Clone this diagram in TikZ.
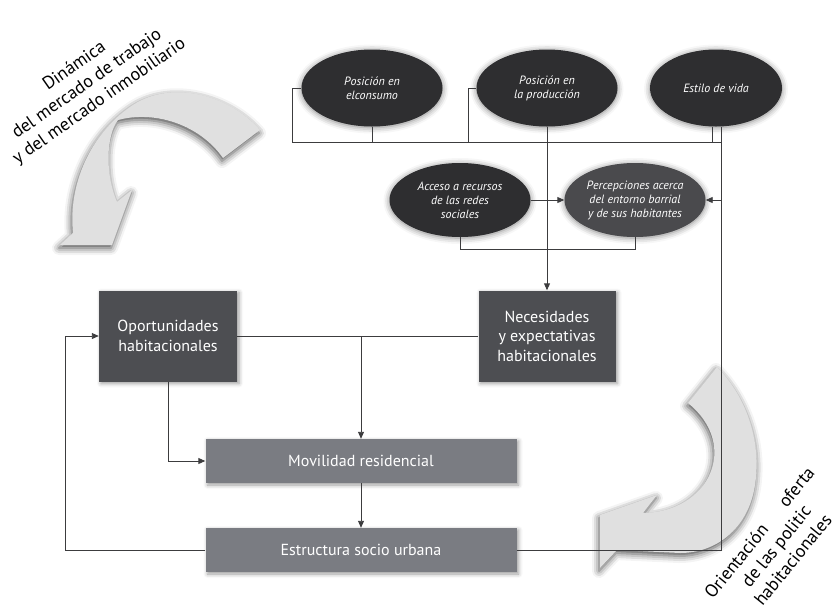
\documentclass[tikz,border=0pt]{standalone}
\usepackage{fontspec}
\setmainfont{PT Sans}
\usetikzlibrary{shapes.geometric,arrows.meta,shadows.blur}

\definecolor{ovaldark}{HTML}{2E2E30}
\definecolor{ovalmid}{HTML}{4A4A4D}
\definecolor{boxdark}{HTML}{4D4E52}
\definecolor{boxlight}{HTML}{7A7C82}
\definecolor{linegray}{HTML}{3C3C3E}
\definecolor{bigarrowgray}{HTML}{E0E0E0}

\tikzset{
    oval/.style={ellipse, fill=ovaldark, text=white, align=center, inner sep=0pt,
        font=\fontsize{12}{14}\selectfont\itshape,
        minimum width=141, minimum height=77,
        blur shadow={shadow xshift=0pt, shadow yshift=-1pt, shadow blur radius=6pt, shadow opacity=50}},
    hbox/.style={rectangle, fill=boxdark, text=white, align=center, inner sep=0pt,
        font=\fontsize{16}{19.5}\selectfont,
        minimum width=138, minimum height=91,
        blur shadow={shadow xshift=2pt, shadow yshift=-2pt, shadow blur radius=4pt}},
    wbox/.style={hbox, fill=boxlight, minimum width=311, minimum height=44},
    link/.style={draw=linegray, line width=0.9pt},
    arr/.style={link, -{Triangle[length=7pt,width=6pt]}},
    bigarrow/.style={fill=bigarrowgray, draw=none,
        blur shadow={shadow xshift=-1pt, shadow yshift=-3pt, shadow blur radius=7pt, shadow opacity=70}},
    lbl/.style={align=center, font=\fontsize{18}{21.5}\selectfont, inner sep=0pt}
}

\begin{document}
\begin{tikzpicture}[x=1pt, y=-1pt]
    % Fix the page size
    \useasboundingbox (0,0) rectangle (832,611);

    % Draw the two large curved arrows
    \path[bigarrow] (260,130) .. controls (230,95) and (170,78) .. (130,107)
        .. controls (90,135) and (68,185) .. (73,233)
        -- (60,245) -- (112,245) -- (132,190) -- (117,202)
        .. controls (105,175) and (106,135) .. (118,120)
        .. controls (155,110) and (200,125) .. (223,158) -- cycle;
    \path[bigarrow] (717,367) .. controls (745,395) and (762,440) .. (755,485)
        .. controls (748,530) and (715,553) .. (680,553)
        -- (617,550) -- (600,568) -- (600,515) -- (657,495) -- (643,513)
        .. controls (710,512) and (740,445) .. (688,403) -- cycle;

    % Draw the labels of the curved arrows
    \node[lbl, rotate=35] (mercado) at (87,84) {Dinámica\\del mercado de trabajo\\y del mercado inmobiliario};
    \node[lbl, rotate=51] (oferta) at (776,546) {Orientación\quad\ \ oferta\\de las politic\\habitacionales};

    % Draw the top ovals
    \node[oval] (cons) at (372,88) {Posición en\\elconsumo};
    \node[oval] (prod) at (547,88) {Posición en\\la producción};
    \node[oval, minimum width=132] (vida) at (716,88) {Estilo de vida};
    \node[oval, minimum height=74] (acc) at (460,200) {Acceso a recursos\\de las redes\\sociales};
    \node[oval, fill=ovalmid, minimum height=74] (perc) at (635,200) {Percepciones acerca\\del entorno barrial\\y de sus habitantes};

    % Draw the boxes
    \node[hbox] (opo) at (168,336) {Oportunidades\\habitacionales};
    \node[hbox, minimum width=137] (nec) at (547,336) {Necesidades\\y expectativas\\habitacionales};
    \node[wbox] (movi) at (361,461) {Movilidad residencial};
    \node[wbox] (estr) at (361,550) {Estructura socio urbana};

    % Draw the lines between the ovals
    \coordinate (busL) at (292,142);
    \coordinate (busR) at (721,142);
    \draw[link] (cons.west) -| (busL) -- (busR);
    \draw[link] (cons.south) -- (cons.south |- busL);
    \draw[link] (prod.west) -| (468,142);
    \draw[link] ([xshift=-4pt]vida.south) -- ([xshift=-4pt]vida.south |- busL);
    \draw[arr] (acc.east) -- (perc.west);
    \draw[link] (acc.south) -- ++(0,12) -| (perc.south);
    \draw[arr] (prod.south) -- (prod.south |- nec.north);

    % Draw the lines between the boxes
    \draw[link] (opo.east) -- (nec.west);
    \draw[arr] (opo.east -| movi.north) -- (movi.north);
    \draw[arr] (opo.south) |- (movi.west);
    \draw[arr] (movi.south) -- (estr.north);
    \draw[arr] (estr.west) -- ++(-140,0) |- (opo.west);
    \draw[link] (estr.east) -| ([xshift=5pt]vida.south);
    \draw[arr] (perc.east -| busR) -- (perc.east);
\end{tikzpicture}
\end{document}
